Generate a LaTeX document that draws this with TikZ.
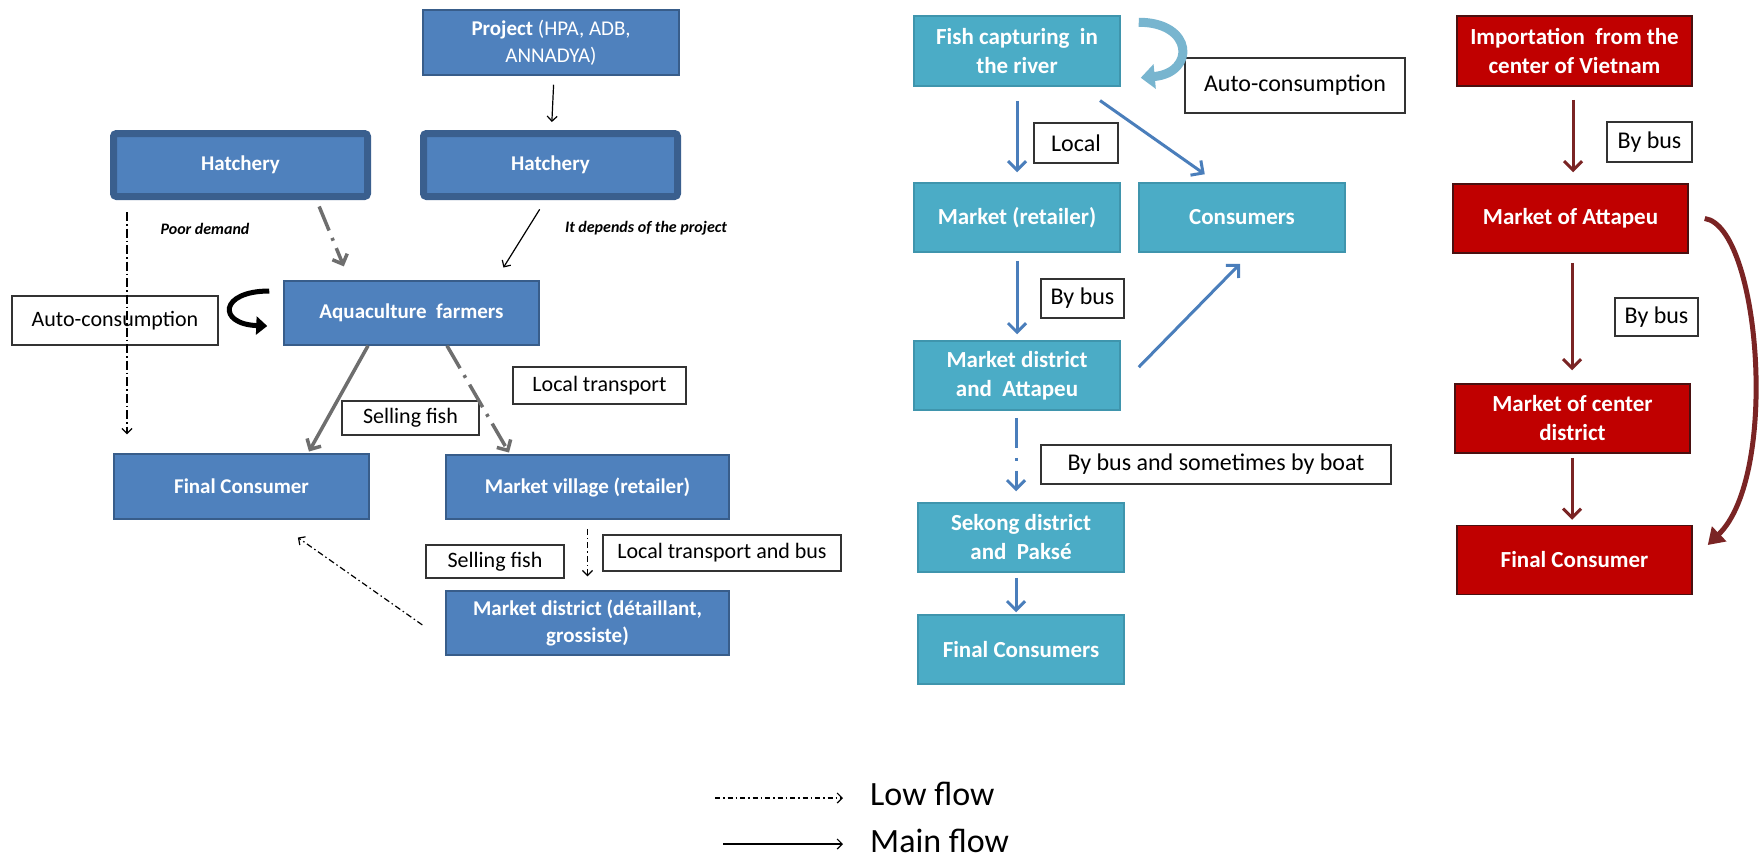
\documentclass[tikz,border=0pt]{standalone}
\usepackage{fontspec}
\setmainfont{Carlito}
\usetikzlibrary{arrows.meta}
\definecolor{bluefill}{HTML}{4F81BD}
\definecolor{blueline}{HTML}{385D8A}
\definecolor{hatchline}{HTML}{3A5F8E}
\definecolor{tealfill}{HTML}{4BACC6}
\definecolor{tealline}{HTML}{3F95AD}
\definecolor{redfill}{HTML}{C00000}
\definecolor{redline}{HTML}{4A1010}
\definecolor{redarrow}{HTML}{7A2424}
\definecolor{bluearrow}{HTML}{4A7EBB}
\definecolor{grayarrow}{HTML}{6E6E6E}
\definecolor{labelline}{HTML}{333333}
\definecolor{curveteal}{HTML}{78B5CF}
\begin{document}
\begin{tikzpicture}[x=1pt,y=-1pt,
  bluebox/.style={draw=blueline, line width=1.5pt, fill=bluefill, text=white,
    font=\fontsize{21}{27}\selectfont\bfseries, align=center, inner sep=0pt},
  hatchbox/.style={draw=hatchline, line width=7pt, fill=bluefill, text=white, rounded corners=3pt,
    font=\fontsize{21}{27}\selectfont\bfseries, align=center, inner sep=0pt,
    minimum width=254pt, minimum height=63pt},
  tealbox/.style={draw=tealline, line width=1.5pt, fill=tealfill, text=white,
    font=\fontsize{23}{29}\selectfont\bfseries, align=center, inner sep=0pt,
    minimum width=206pt, minimum height=69pt},
  redbox/.style={draw=redline, line width=1.5pt, fill=redfill, text=white,
    font=\fontsize{23}{29}\selectfont\bfseries, align=center, inner sep=0pt,
    minimum width=235pt, minimum height=69pt},
  lbl/.style={draw=labelline, line width=1.5pt, fill=white, text=black,
    font=\fontsize{22}{26}\selectfont, inner sep=0pt},
  tlbl/.style={lbl, font=\fontsize{24}{28}\selectfont},
  note/.style={font=\fontsize{16}{19}\selectfont\bfseries\itshape, inner sep=0pt},
  thinarrow/.style={draw=black, line width=1.2pt, -{Straight Barb[length=5pt,width=10pt]}},
  thindashdot/.style={thinarrow, dash pattern=on 9pt off 3pt on 1.5pt off 3pt},
  thindash/.style={thinarrow, dash pattern=on 6pt off 3pt on 1.5pt off 3pt},
  grayarr/.style={draw=grayarrow, line width=3.5pt, -{Straight Barb[length=8pt,width=16pt]}},
  graydash/.style={grayarr, dash pattern=on 26pt off 8pt on 3pt off 8pt},
  tealarr/.style={draw=bluearrow, line width=3pt, -{Straight Barb[length=9pt,width=18pt]}},
  tealdash/.style={tealarr, dash pattern=on 30pt off 10pt on 3pt off 10pt},
  redarr/.style={draw=redarrow, line width=3pt, -{Straight Barb[length=9pt,width=18pt]}},
  legtext/.style={font=\fontsize{34}{40}\selectfont, inner sep=0pt, anchor=west}
]
\useasboundingbox[fill=white] (0,0) rectangle (1763,863);

% ---------------- left part ----------------
\node[bluebox, minimum width=256pt, minimum height=65pt] (proj) at (551,42.5)
  {Project {\mdseries (HPA, ADB,}\\{\mdseries ANNADYA)}};
\node[hatchbox] (hatch1) at (240.5,165) {Hatchery};
\node[hatchbox] (hatch2) at (550.5,165) {Hatchery};
\node[bluebox, minimum width=255pt, minimum height=64pt] (aqua) at (411.5,313) {Aquaculture\ \ farmers};
\node[bluebox, minimum width=255pt, minimum height=65pt] (fincons) at (241.5,486.5) {Final Consumer};
\node[bluebox, minimum width=283pt, minimum height=64pt] (mvillage) at (587.5,487) {Market village (retailer)};
\node[bluebox, minimum width=283pt, minimum height=64pt] (mdistrict) at (587.5,623) {Market district (détaillant,\\grossiste)};

\node[lbl, minimum width=206pt, minimum height=49pt] (auto1) at (115,320.5) {Auto-consumption};
\node[lbl, minimum width=137pt, minimum height=34pt] (sell1) at (410.5,418) {Selling fish};
\node[lbl, minimum width=173pt, minimum height=37pt] (loc1) at (599.5,385.5) {Local transport};
\node[lbl, minimum width=138pt, minimum height=33pt] (sell2) at (495,561.5) {Selling fish};
\node[lbl, minimum width=238pt, minimum height=36pt] (locbus) at (722,553) {Local transport and bus};
\node[note] (poor) at (205,229) {Poor demand};
\node[note] (depends) at (646,228) {It depends of the project};

\draw[thinarrow, shorten <=9pt, shorten >=8pt] ([xshift=3pt]proj.south) -- ([xshift=1pt]hatch2.north);
\draw[thinarrow, shorten <=11pt, shorten >=15pt] ([xshift=-5pt]hatch2.south) -- ([xshift=84pt]aqua.north);
\draw[graydash, shorten <=7pt, shorten >=15pt] ([xshift=76pt]hatch1.south) -- ([xshift=-62pt]aqua.north);
\draw[thindashdot, shorten <=12pt, shorten >=19pt] ([xshift=-113.5pt]hatch1.south) -- ([xshift=-114.5pt]fincons.north);
\draw[grayarr, shorten >=2pt] ([xshift=-43.5pt]aqua.south) -- ([xshift=66.5pt]fincons.north);
\draw[graydash, shorten >=2pt] ([xshift=35.5pt]aqua.south) -- ([xshift=-77.5pt]mvillage.north);
\draw[thindash, shorten <=9pt, shorten >=14pt] (mvillage.south) -- (mdistrict.north);
\draw[thindash, shorten <=28pt, shorten >=31pt] ([yshift=-18pt]mdistrict.west) -- ([xshift=31pt]fincons.south);
\draw[line width=5pt, -{Triangle[length=11pt,width=18pt]}]
  ([xshift=-14pt,yshift=22pt]aqua.west) .. controls +(-50,0) and +(-50,-2) .. ([xshift=-16pt,yshift=-13pt]aqua.west);

% ---------------- middle part ----------------
\node[tealbox, minimum height=70pt] (fish) at (1017,51) {Fish capturing\ \ in\\the river};
\node[tealbox] (mret) at (1017,217.5) {Market (retailer)};
\node[tealbox] (cons) at (1242,217.5) {Consumers};
\node[tealbox] (mdist2) at (1017,375.5) {Market district\\and\ \ Attapeu};
\node[tealbox] (sekong) at (1021,537.5) {Sekong district\\and\ \ Paksé};
\node[tealbox] (fcons) at (1021,649.5) {Final Consumers};

\node[tlbl, minimum width=220pt, minimum height=55pt] (auto2) at (1295,85.5) {Auto-consumption};
\node[tlbl, minimum width=84pt, minimum height=40pt] (local) at (1076,143) {Local};
\node[tlbl, minimum width=83pt, minimum height=39pt] (bybus1) at (1082.5,298.5) {By bus};
\node[tlbl, minimum width=350pt, minimum height=39pt] (bybusboat) at (1216,464.5) {By bus and sometimes by boat};

\draw[tealarr, shorten <=14pt, shorten >=10pt] (fish.south) -- (mret.north);
\draw[tealarr, shorten <=24pt, shorten >=14pt] ([xshift=63.4pt]fish.south) -- ([xshift=-25.8pt]cons.north);
\draw[tealarr, shorten <=8pt, shorten >=6pt] (mret.south) -- (mdist2.north);
\draw[tealarr, shorten <=25.7pt, shorten >=15.4pt] ([yshift=-10pt]mdist2.east) -- ([xshift=8.8pt]cons.south);
\draw[tealdash, shorten <=7pt, shorten >=11pt] ([xshift=-1pt]mdist2.south) -- ([xshift=-5pt]sekong.north);
\draw[tealarr, shorten <=5pt, shorten >=2pt] ([xshift=-5pt]sekong.south) -- ([xshift=-5pt]fcons.north);
\draw[curveteal, line width=9pt, -{Triangle[length=14pt,width=24pt]}]
  ([xshift=18pt,yshift=-7pt]fish.north east) .. controls +(55,0) and +(55,-5) .. ([xshift=20pt,yshift=9pt]fish.south east);

% ---------------- right part ----------------
\node[redbox, minimum height=70pt] (imp) at (1574.5,51) {Importation\ \ from the\\center of Vietnam};
\node[redbox] (matt) at (1570.5,218.5) {Market of Attapeu};
\node[redbox] (mcent) at (1572.5,418.5) {Market of center\\district};
\node[redbox] (fcons2) at (1574.5,560) {Final Consumer};

\node[tlbl, minimum width=85pt, minimum height=40pt] (rb1) at (1649.5,142) {By bus};
\node[tlbl, minimum width=83pt, minimum height=38pt] (rb2) at (1656.5,317) {By bus};

\draw[redarr, shorten <=13pt, shorten >=11pt] ([xshift=-1.5pt]imp.south) -- ([xshift=2.5pt]matt.north);
\draw[redarr, shorten <=9pt, shorten >=13pt] ([xshift=1.5pt]matt.south) -- ([xshift=-0.5pt]mcent.north);
\draw[redarr, shorten <=4pt, shorten >=5pt] ([xshift=-0.5pt]mcent.south) -- ([xshift=-2.5pt]fcons2.north);
\draw[redarrow, line width=5pt, -{Triangle[length=16pt,width=20pt]}]
  ([xshift=16pt]matt.east) .. controls +(55,8) and +(72,-70) .. ([xshift=15pt,yshift=15pt]fcons2.east);

% ---------------- legend ----------------
\node[legtext] (lowtxt) at (870,794) {Low flow};
\node[legtext] (maintxt) at (870,841) {Main flow};
\coordinate (lowstart) at (715,798);
\coordinate (mainstart) at (723,844);
\draw[thinarrow, dash pattern=on 5pt off 3pt on 1.5pt off 3pt, shorten >=27pt] (lowstart) -- (lowstart -| lowtxt.west);
\draw[thinarrow, shorten >=27pt] (mainstart) -- (mainstart -| maintxt.west);
\end{tikzpicture}
\end{document}
